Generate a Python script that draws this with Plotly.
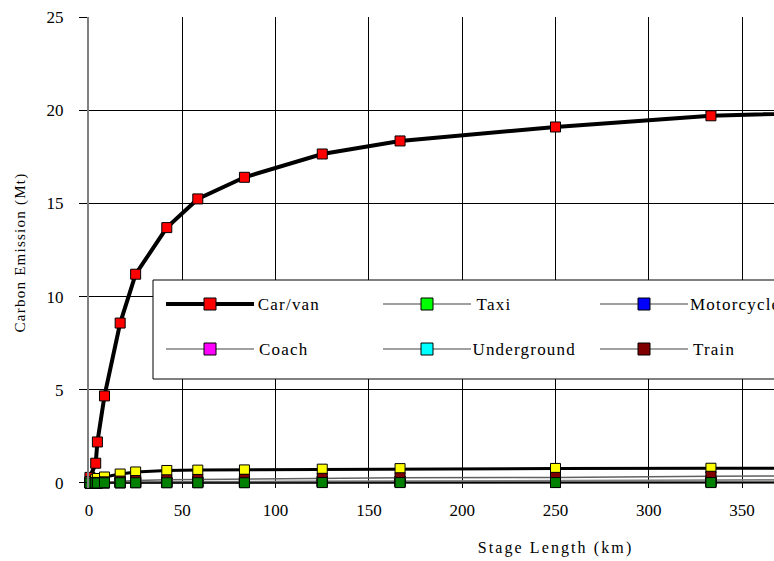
import plotly.graph_objects as go

# Stage length (km) at which each mode's cumulative emission is reported
stage_km = [0.5, 3.6, 4.5, 8.3, 16.7, 25, 41.7, 58.3, 83.3, 125, 166.7, 250, 333.3, 500]

# Cumulative carbon emission by mode (Mt)
car_van = [0.3, 1.06, 2.2, 4.67, 8.58, 11.2, 13.7, 15.24, 16.4, 17.65, 18.35, 19.1, 19.7, 20.2]
taxi = [0.0, 0.01, 0.01, 0.02, 0.04, 0.05, 0.06, 0.07, 0.08, 0.09, 0.09, 0.1, 0.1, 0.1]
motorcycle = [0.0, 0.0, 0.0, 0.01, 0.01, 0.02, 0.02, 0.02, 0.03, 0.03, 0.03, 0.03, 0.03, 0.03]
bus = [0.08, 0.2, 0.24, 0.32, 0.48, 0.59, 0.67, 0.69, 0.7, 0.74, 0.77, 0.78, 0.79, 0.8]
coach = [0.0, 0.0, 0.0, 0.0, 0.01, 0.02, 0.03, 0.04, 0.06, 0.08, 0.1, 0.13, 0.16, 0.2]
underground = [0.0, 0.0, 0.01, 0.02, 0.03, 0.04, 0.05, 0.05, 0.05, 0.06, 0.06, 0.06, 0.06, 0.06]
train = [0.0, 0.02, 0.03, 0.06, 0.1, 0.13, 0.17, 0.19, 0.2, 0.25, 0.28, 0.3, 0.36, 0.42]
other = [0.0, 0.0, 0.0, 0.01, 0.01, 0.01, 0.01, 0.01, 0.01, 0.02, 0.02, 0.02, 0.02, 0.02]

x_ticks = [0, 50, 100, 150, 200, 250, 300, 350]
y_ticks = [0, 5, 10, 15, 20, 25]

# name, values, marker colour, line colour, line width (legend order, row by row)
series = [
    ("Car/van", car_van, "#FF0000", "#000000", 4),
    ("Taxi", taxi, "#00FF00", "#808080", 1.5),
    ("Motorcycle", motorcycle, "#0000FF", "#808080", 1.5),
    ("Bus", bus, "#FFFF00", "#000000", 3),
    ("Coach", coach, "#FF00FF", "#808080", 1.5),
    ("Underground", underground, "#00FFFF", "#606060", 1.5),
    ("Train", train, "#800000", "#606060", 1.5),
    ("Other", other, "#008000", "#000000", 1.5),
]
# drawing order so the larger small-mode markers sit underneath
draw_order = ["Car/van", "Taxi", "Motorcycle", "Coach", "Underground", "Bus", "Train", "Other"]

FONT = "Liberation Serif"
W, H = 1060, 561
ML, MR, MT, MB = 89, 38, 17, 73
PW, PH = W - ML - MR, H - MT - MB

fig = go.Figure()
lookup = {s[0]: s for s in series}
for name in draw_order:
    _, vals, mc, lc, lw = lookup[name]
    fig.add_trace(go.Scatter(
        x=stage_km, y=vals, name=name, mode="lines+markers",
        line=dict(color=lc, width=lw),
        marker=dict(symbol="square", size=10, color=mc, line=dict(color="#000000", width=1)),
        showlegend=False, cliponaxis=False,
    ))

# Legend panel: box, line samples, square markers and labels
def px_x(p):
    return (p - ML) / PW

def px_y(p):
    return (H - MB - p) / PH

shapes = [dict(type="rect", xref="paper", yref="paper",
               x0=px_x(153), x1=px_x(1010), y0=px_y(379), y1=px_y(280),
               fillcolor="white", line=dict(color="#000000", width=1))]
annotations = []
col_left, col_pitch, row_tops = 166, 217, [304, 349]
for i, (name, _, mc, lc, lw) in enumerate(series):
    r, c = divmod(i, 4)
    x0 = col_left + c * col_pitch
    yy = row_tops[r]
    shapes.append(dict(type="line", xref="paper", yref="paper",
                       x0=px_x(x0), x1=px_x(x0 + 88), y0=px_y(yy), y1=px_y(yy),
                       line=dict(color=lc if lw > 2 else "#808080", width=lw)))
    shapes.append(dict(type="rect", xref="paper", yref="paper",
                       xsizemode="pixel", ysizemode="pixel",
                       xanchor=px_x(x0 + 44), yanchor=px_y(yy),
                       x0=-6, x1=6, y0=-6, y1=6,
                       fillcolor=mc, line=dict(color="#000000", width=1)))
    annotations.append(dict(xref="paper", yref="paper", x=px_x(x0 + 94), y=px_y(yy),
                            xanchor="left", yanchor="middle", showarrow=False,
                            text=name, font=dict(family=FONT, size=17, color="#000000")))

fig.update_layout(
    width=W, height=H,
    margin=dict(l=ML, r=MR, t=MT, b=MB, pad=0, autoexpand=False),
    paper_bgcolor="white", plot_bgcolor="white",
    font=dict(family=FONT, size=17, color="#000000"),
    shapes=shapes, annotations=annotations,
    showlegend=False,
)
fig.update_xaxes(
    range=[0, 500], tickvals=x_ticks, ticks="", ticklabelstandoff=10,
    showgrid=True, gridcolor="#000000", gridwidth=1,
    zeroline=False, showline=False, automargin=False,
    title=dict(text="Stage Length (km)", font=dict(size=16), standoff=22),
)
fig.update_yaxes(
    range=[-0.27, 25], tickvals=y_ticks, ticks="outside", ticklen=8, tickcolor="#000000",
    ticklabelstandoff=12, automargin=False,
    showgrid=True, gridcolor="#000000", gridwidth=1,
    zeroline=True, zerolinecolor="#000000", zerolinewidth=1,
    showline=True, linecolor="#808080", linewidth=2,
    title=dict(text="Carbon Emission (Mt)", font=dict(size=15), standoff=17),
)

# page chrome and the wide letter spacing of the titles and legend labels
post = (
    "document.documentElement.style.overflow='hidden';"
    "document.body.style.overflow='hidden';"
    "document.querySelectorAll('.xtitle').forEach(function(e){e.style.letterSpacing='2.1px';});"
    "document.querySelectorAll('.ytitle').forEach(function(e){e.style.letterSpacing='1.25px';});"
    "document.querySelectorAll('.annotation-text').forEach(function(e){e.style.letterSpacing='1.2px';});"
)
fig.write_html("out.html", post_script=post)
